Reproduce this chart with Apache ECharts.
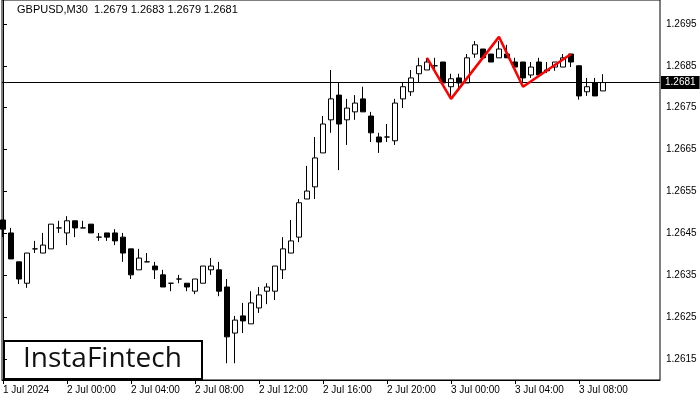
<!DOCTYPE html>
<html>
<head>
<meta charset="utf-8">
<script src="https://cdn.jsdelivr.net/npm/echarts@6/dist/echarts.min.js"></script>
<style>
html,body{margin:0;padding:0;background:#fff;}
#chart{width:700px;height:400px;}
</style>
</head>
<body>
<div id="chart"></div>
<script>
// ---- Data (GBPUSD, M30, from 1 Jul 2024 20:00) ----
const symbolTitle = 'GBPUSD,M30  1.2679 1.2683 1.2679 1.2681';
const lastPrice = 1.2681;

const openP = [1.26482,1.26451,1.26382,1.26331,1.26413,1.26403,1.26413,1.26463,1.26451,1.26480,
1.26463,1.26472,1.26441,1.26451,1.26451,1.26441,1.26413,1.26363,1.26382,1.26372,
1.26351,1.26331,1.26341,1.26331,1.26312,1.26331,1.26363,1.26363,1.26322,1.26212,
1.26253,1.26234,1.26272,1.26312,1.26312,1.26363,1.26403,1.26441,1.26532,1.26561,
1.26642,1.26721,1.26780,1.26721,1.26740,1.26771,1.26730,1.26680,1.26680,1.26671,
1.26771,1.26788,1.26831,1.26840,1.26850,1.26859,1.26800,1.26821,1.26809,1.26878,
1.26890,1.26878,1.26869,1.26878,1.26859,1.26859,1.26828,1.26859,1.26840,1.26847,
1.26847,1.26878,1.26850,1.26788,1.26809,1.26790];

const highP = [1.26482,1.26463,1.26382,1.26403,1.26432,1.26451,1.26472,1.26480,1.26491,1.26480,
1.26480,1.26472,1.26451,1.26451,1.26460,1.26451,1.26413,1.26413,1.26403,1.26382,
1.26363,1.26331,1.26351,1.26331,1.26341,1.26372,1.26391,1.26382,1.26341,1.26253,
1.26284,1.26312,1.26322,1.26331,1.26372,1.26441,1.26482,1.26532,1.26611,1.26680,
1.26730,1.26840,1.26809,1.26771,1.26780,1.26800,1.26740,1.26690,1.26711,1.26771,
1.26809,1.26840,1.26869,1.26869,1.26869,1.26859,1.26831,1.26831,1.26878,1.26909,
1.26890,1.26878,1.26909,1.26900,1.26869,1.26859,1.26859,1.26869,1.26859,1.26859,
1.26878,1.26878,1.26850,1.26821,1.26821,1.26830];

const lowP = [1.26441,1.26389,1.26329,1.26320,1.26403,1.26403,1.26413,1.26451,1.26422,1.26441,
1.26463,1.26451,1.26432,1.26432,1.26422,1.26382,1.26341,1.26363,1.26382,1.26341,
1.26322,1.26312,1.26331,1.26312,1.26305,1.26331,1.26351,1.26300,1.26140,1.26140,
1.26212,1.26234,1.26260,1.26281,1.26291,1.26341,1.26403,1.26429,1.26532,1.26532,
1.26642,1.26690,1.26601,1.26661,1.26721,1.26740,1.26668,1.26642,1.26668,1.26661,
1.26749,1.26778,1.26809,1.26840,1.26840,1.26809,1.26778,1.26797,1.26809,1.26869,
1.26869,1.26859,1.26869,1.26869,1.26847,1.26809,1.26821,1.26828,1.26833,1.26838,
1.26847,1.26847,1.26769,1.26778,1.26778,1.26790];

const closeP = [1.26460,1.26389,1.26341,1.26403,1.26413,1.26422,1.26472,1.26463,1.26480,1.26463,
1.26463,1.26451,1.26441,1.26441,1.26432,1.26403,1.26351,1.26391,1.26382,1.26363,
1.26322,1.26331,1.26341,1.26322,1.26341,1.26372,1.26372,1.26312,1.26203,1.26243,
1.26241,1.26284,1.26303,1.26322,1.26372,1.26413,1.26432,1.26523,1.26551,1.26630,
1.26711,1.26771,1.26711,1.26749,1.26761,1.26740,1.26690,1.26668,1.26680,1.26761,
1.26800,1.26821,1.26850,1.26859,1.26850,1.26809,1.26819,1.26809,1.26869,1.26900,
1.26869,1.26859,1.26890,1.26869,1.26847,1.26821,1.26847,1.26828,1.26838,1.26859,
1.26869,1.26859,1.26778,1.26800,1.26778,1.26810];

// time-axis tick labels (bar index where each label sits)
const tickBars = [0, 8, 16, 24, 32, 40, 48, 56, 64, 72];
const tickLabels = ['1 Jul 2024','2 Jul 00:00','2 Jul 04:00','2 Jul 08:00','2 Jul 12:00',
  '2 Jul 16:00','2 Jul 20:00','3 Jul 00:00','3 Jul 04:00','3 Jul 08:00'];

// price-axis labels
const priceTicks = [1.2615,1.2625,1.2635,1.2645,1.2655,1.2665,1.2675,1.2685,1.2695];

// pattern (red polyline) vertices: bar index, price
const patternBars = [53, 56, 62, 65, 71];
const patternPrices = [1.26869, 1.26771, 1.26919, 1.26800, 1.26878];

// ---- Build ----
const candleRows = openP.map((o, i) => [i, o, closeP[i], lowP[i], highP[i]]);
const patternRows = patternBars.map((b, i) => [b, patternPrices[i]]);
const labelMap = {};
tickBars.forEach((b, i) => { labelMap[b] = tickLabels[i]; });

const chart = echarts.init(document.getElementById('chart'), null, {renderer: 'canvas'});
const FONT = 'Liberation Sans';

chart.setOption({
  animation: false,
  backgroundColor: '#fff',
  grid: {
    left: 2, right: 40, top: 0, bottom: 20,
    show: true, borderColor: '#000', borderWidth: 1, backgroundColor: '#fff'
  },
  xAxis: {
    type: 'value',
    min: -0.125, max: 82.125,
    splitLine: {show: false},
    axisLine: {show: true, onZero: false, lineStyle: {color: '#000', width: 1}},
    axisTick: {show: true, length: 4, lineStyle: {color: '#000'}, customValues: tickBars},
    axisLabel: {
      customValues: tickBars,
      formatter: v => labelMap[Math.round(v)] || '',
      color: '#000', fontFamily: FONT, fontSize: 10, align: 'left', margin: 5
    }
  },
  yAxis: {
    type: 'value', position: 'right',
    min: 1.2610, max: 1.27007,
    splitLine: {show: false},
    axisLine: {show: true, lineStyle: {color: '#000', width: 1}},
    axisTick: {show: true, length: 4, lineStyle: {color: '#000'}, customValues: priceTicks},
    axisLabel: {
      customValues: priceTicks,
      formatter: v => v.toFixed(4),
      color: '#000', fontFamily: FONT, fontSize: 10, margin: 6
    }
  },
  series: [
    {
      type: 'candlestick',
      data: candleRows,
      encode: {x: 0, y: [1, 2, 3, 4]},
      barWidth: 5,
      itemStyle: {
        color: '#fff', color0: '#000',
        borderColor: '#000', borderColor0: '#000', borderWidth: 1
      }
    },
    {
      type: 'line',
      data: patternRows,
      symbol: 'none',
      lineStyle: {color: '#ff0000', width: 2.5},
      z: 5,
      markLine: {
        silent: true,
        precision: 5,
        symbol: ['none', 'none'],
        lineStyle: {color: '#000', type: 'solid', width: 1},
        label: {
          show: true, position: 'end', distance: 1,
          formatter: () => lastPrice.toFixed(4),
          color: '#fff', backgroundColor: '#000',
          fontFamily: FONT, fontSize: 10, padding: [2, 4, 1, 4]
        },
        data: [{yAxis: lastPrice}]
      }
    }
  ],
  graphic: [
    {
      type: 'text', left: 17, top: 4,
      style: {text: symbolTitle, fill: '#000', font: '11px "Liberation Sans"'}
    },
    {
      type: 'group', left: 3, top: 340,
      children: [
        {type: 'rect', shape: {x: 0, y: 0, width: 198, height: 38},
         style: {fill: '#fff', stroke: '#000', lineWidth: 2}},
        {type: 'text', x: 19, y: 4,
         style: {text: 'InstaFintech', fill: '#111', font: '500 28px "Open Sans"'}}
      ]
    }
  ]
});
</script>
</body>
</html>
